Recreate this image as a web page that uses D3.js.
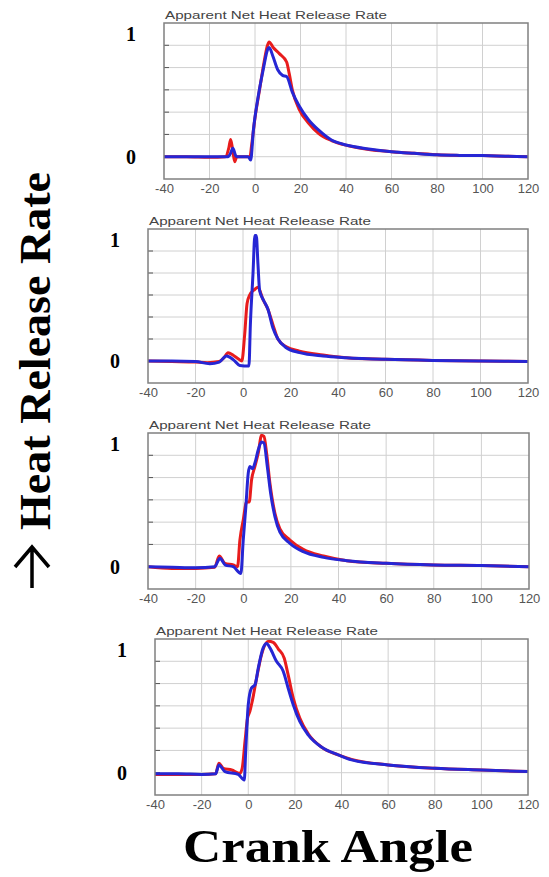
<html>
<head>
<meta charset="utf-8">
<script src="https://d3js.org/d3.v7.min.js"></script>
<style>
  body { margin: 0; background: #fff; }
</style>
</head>
<body>
<svg id="chart" width="549" height="877"></svg>
<script>
// crank angle ticks and normalized heat release gridlines
var xTicks = [-40, -20, 0, 20, 40, 60, 80, 100, 120];
var yGrid = [0, 0.2, 0.4, 0.6, 0.8, 1.0];
var panelTitle = "Apparent Net Heat Release Rate";

// panel 1
var p1Red = [[-40,0],[-30,0],[-20,-0.005],[-13,0],[-11.5,0.08],[-10.7,0.155],[-9.8,0.06],[-8.9,-0.045],[-8,0],[-5,0],[-2.2,0],[-1.5,0.1],[0,0.35],[2,0.6],[4,0.85],[5.5,1.0],[6.2,1.03],[8,0.98],[10.7,0.925],[13.9,0.85],[15,0.75],[16.4,0.6],[19.3,0.43],[23.6,0.3],[27.9,0.21],[33.6,0.145],[40.7,0.1],[50,0.065],[60,0.045],[70,0.03],[80,0.018],[90,0.012],[100,0.01],[110,0.005],[120,0]];
var p1Blue = [[-40,0],[-30,0],[-20,0],[-12,0],[-11,0.02],[-9.7,0.075],[-8.5,0.01],[-8,0],[-3,0],[-1.9,-0.03],[-0.7,0.24],[1.4,0.54],[3.6,0.78],[5.7,0.97],[6.2,0.98],[7.9,0.9],[10,0.78],[12.1,0.73],[13.9,0.72],[16.4,0.58],[19.3,0.46],[23.6,0.33],[27.9,0.24],[33.6,0.15],[40,0.105],[50,0.07],[60,0.045],[70,0.03],[80,0.017],[90,0.012],[100,0.01],[110,0.005],[120,0]];

// panel 2
var p2Red = [[-40,0],[-30,-0.005],[-20,-0.01],[-15,-0.015],[-10,-0.005],[-8,0.03],[-6.3,0.076],[-4,0.05],[-2,0.02],[-0.5,0],[0.7,0.24],[1.7,0.52],[2.8,0.6],[4.9,0.65],[6.3,0.67],[8.4,0.56],[10.5,0.47],[12.6,0.33],[14.7,0.2],[18.2,0.13],[23.8,0.09],[33.7,0.055],[43.5,0.03],[60,0.015],[80,0.005],[100,0],[120,-0.005]];
var p2Blue = [[-40,0],[-30,0],[-20,-0.005],[-14,-0.025],[-10,-0.01],[-7,0.045],[-4,0.01],[-1.4,-0.04],[2.5,-0.045],[3.1,0.33],[4.2,0.79],[5,1.14],[5.6,1.14],[6.3,0.88],[7,0.64],[8.7,0.55],[10.5,0.47],[12.6,0.3],[14.7,0.2],[18.2,0.12],[23.8,0.076],[33.7,0.045],[43.5,0.03],[60,0.015],[80,0.005],[100,0],[120,-0.005]];

// panel 3
var p3Red = [[-40,0],[-30,-0.015],[-20,-0.015],[-12,-0.005],[-10.1,0.096],[-7.7,0.03],[-4.2,0.015],[-2.4,0],[-1.4,0.24],[0,0.42],[1.4,0.58],[2.5,0.58],[3.5,0.78],[4.9,0.9],[6.3,1.02],[7.7,1.18],[8.7,1.17],[9.8,1.02],[11.2,0.75],[13.3,0.48],[15.4,0.34],[19.6,0.24],[25.2,0.156],[33.7,0.096],[43.5,0.054],[60,0.03],[80,0.015],[100,0.01],[120,0]];
var p3Blue = [[-40,0],[-30,-0.005],[-20,-0.01],[-12,0],[-9.8,0.075],[-7.5,0.015],[-4.2,0],[-1,-0.06],[0,0.24],[1.1,0.54],[2.1,0.84],[2.8,0.9],[3.9,0.88],[4.9,0.93],[6.3,1.05],[7.7,1.12],[8.7,1.11],[10.1,0.9],[11.5,0.66],[13.3,0.45],[15.4,0.31],[19.6,0.21],[25.2,0.135],[33.7,0.084],[43.5,0.054],[60,0.03],[80,0.015],[100,0.01],[120,0]];

// panel 4
var p4Red = [[-40,-0.015],[-30,-0.015],[-20,-0.015],[-14,-0.01],[-12.6,0.084],[-10.7,0.04],[-7.1,0.024],[-3.6,-0.006],[-2.6,0.04],[-1.4,0.28],[-0.3,0.49],[0.7,0.55],[1.7,0.64],[3.6,0.85],[5.7,1.06],[8.6,1.18],[10.7,1.17],[12.9,1.11],[15.4,1.03],[17.1,0.88],[19.3,0.67],[22.1,0.49],[25.7,0.35],[31.4,0.23],[38.6,0.16],[44.3,0.12],[60,0.07],[80,0.04],[100,0.024],[120,0.01]];
var p4Blue = [[-40,-0.01],[-30,-0.01],[-20,-0.015],[-14,-0.01],[-12.6,0.07],[-10,0.01],[-4.3,-0.015],[-1.7,-0.066],[-1.1,0.19],[0,0.61],[1.4,0.76],[2.9,0.79],[4.3,0.94],[6.4,1.12],[7.9,1.16],[9.3,1.12],[12.1,1.0],[15,0.91],[17.1,0.76],[19.3,0.61],[22.1,0.46],[25.7,0.34],[31.4,0.23],[38.6,0.16],[44.3,0.115],[60,0.07],[80,0.04],[100,0.024],[120,0.01]];

// where each panel's plot box sits on the page
var panels = [
  {left: 164, right: 528, top: 23,  bottom: 179, red: p1Red, blue: p1Blue},
  {left: 148, right: 528, top: 229, bottom: 383, red: p2Red, blue: p2Blue},
  {left: 148, right: 529, top: 433, bottom: 589, red: p3Red, blue: p3Blue},
  {left: 155, right: 528, top: 639, bottom: 795, red: p4Red, blue: p4Blue}
];

var svg = d3.select("#chart");
svg.append("rect").attr("width", 549).attr("height", 877).attr("fill", "#fff");

panels.forEach(function(p) {
  var x = d3.scaleLinear().domain([-40, 120]).range([p.left, p.right]);
  var y = d3.scaleLinear().domain([-0.2, 1.2]).range([p.bottom, p.top]);
  var g = svg.append("g");

  // vertical grid
  g.selectAll(".vg").data(xTicks.slice(1, -1)).enter().append("line")
    .attr("x1", function(d) { return x(d); }).attr("x2", function(d) { return x(d); })
    .attr("y1", p.top).attr("y2", p.bottom)
    .attr("stroke", "#d0d0d0").attr("stroke-width", 1);

  // horizontal grid
  g.selectAll(".hg").data(yGrid).enter().append("line")
    .attr("x1", p.left).attr("x2", p.right)
    .attr("y1", function(d) { return y(d); }).attr("y2", function(d) { return y(d); })
    .attr("stroke", "#d0d0d0").attr("stroke-width", 1);

  // small ticks on the inner left edge
  g.selectAll(".lt").data(yGrid).enter().append("line")
    .attr("x1", p.left).attr("x2", p.left + 5)
    .attr("y1", function(d) { return y(d); }).attr("y2", function(d) { return y(d); })
    .attr("stroke", "#555").attr("stroke-width", 1);

  // x tick labels (plain hyphen like the original)
  g.append("g")
    .attr("transform", "translate(0," + p.bottom + ")")
    .call(d3.axisBottom(x).tickValues(xTicks).tickSize(0).tickPadding(5)
      .tickFormat(function(d) { return String(d); }))
    .call(function(a) { a.select(".domain").remove(); })
    .selectAll("text")
      .style("font-family", "Arial, 'Liberation Sans', sans-serif")
      .style("font-size", "13px")
      .attr("fill", "#555");

  var line = d3.line()
    .x(function(d) { return x(d[0]); })
    .y(function(d) { return y(d[1]); })
    .curve(d3.curveMonotoneX);

  g.append("path").datum(p.red).attr("d", line)
    .attr("fill", "none").attr("stroke", "#e81c1c").attr("stroke-width", 3)
    .attr("stroke-linejoin", "round");
  g.append("path").datum(p.blue).attr("d", line)
    .attr("fill", "none").attr("stroke", "#2626d4").attr("stroke-width", 3)
    .attr("stroke-linejoin", "round");

  // plot frame
  g.append("rect")
    .attr("x", p.left).attr("y", p.top)
    .attr("width", p.right - p.left).attr("height", p.bottom - p.top)
    .attr("fill", "none").attr("stroke", "#808080").attr("stroke-width", 1.5);

  // panel title
  g.append("text")
    .attr("x", p.left + 1).attr("y", p.top - 4)
    .attr("textLength", 222).attr("lengthAdjust", "spacingAndGlyphs")
    .style("font-family", "Arial, 'Liberation Sans', sans-serif")
    .style("font-size", "11px")
    .attr("fill", "#444")
    .text(panelTitle);

  // "1" and "0" markers
  g.append("text")
    .attr("x", p.left - 33).attr("y", y(1.1)).attr("dy", "0.35em")
    .attr("text-anchor", "middle")
    .style("font-family", "'Liberation Serif', 'Times New Roman', serif")
    .style("font-weight", "bold").style("font-size", "20px")
    .text("1");
  g.append("text")
    .attr("x", p.left - 33).attr("y", y(0)).attr("dy", "0.35em")
    .attr("text-anchor", "middle")
    .style("font-family", "'Liberation Serif', 'Times New Roman', serif")
    .style("font-weight", "bold").style("font-size", "20px")
    .text("0");
});

// shared axis titles
svg.append("text")
  .attr("x", 328).attr("y", 862)
  .attr("text-anchor", "middle")
  .attr("textLength", 290).attr("lengthAdjust", "spacingAndGlyphs")
  .style("font-family", "'Liberation Serif', 'Times New Roman', serif")
  .style("font-weight", "bold").style("font-size", "46px")
  .text("Crank Angle");

svg.append("text")
  .attr("transform", "translate(50,351) rotate(-90)")
  .attr("text-anchor", "middle")
  .attr("textLength", 358).attr("lengthAdjust", "spacingAndGlyphs")
  .style("font-family", "'Liberation Serif', 'Times New Roman', serif")
  .style("font-weight", "bold").style("font-size", "45px")
  .text("Heat Release Rate");

// the arrow in front of the y title, drawn as a stroked glyph
svg.append("path")
  .attr("d", "M32,588 L32,547 M15,567 L32,547 L49,567")
  .attr("fill", "none").attr("stroke", "#000").attr("stroke-width", 3.5)
  .attr("stroke-linejoin", "miter");
</script>
</body>
</html>
